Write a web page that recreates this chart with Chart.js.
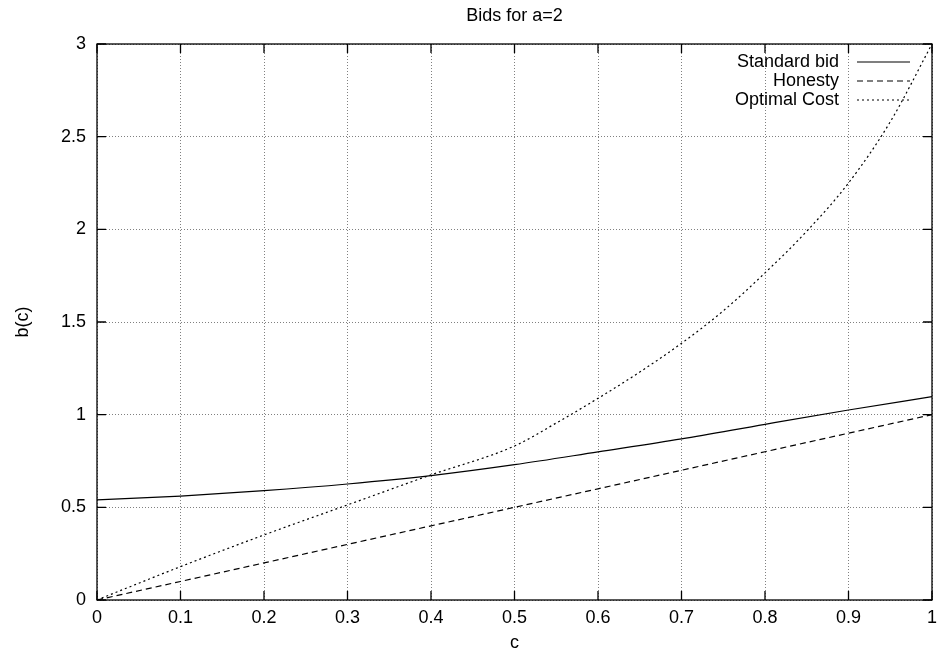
<!DOCTYPE html>
<html>
<head>
<meta charset="utf-8">
<script src="https://cdn.jsdelivr.net/npm/chart.js@4.4.1/dist/chart.umd.min.js"></script>
<style>
  html, body { margin: 0; padding: 0; background: #fff; }
  #wrap { width: 938px; height: 656px; }
</style>
</head>
<body>
<div id="wrap"><canvas id="c" width="938" height="656"></canvas></div>
<script>
// ---- data ----
const chartTitle = "Bids for a=2";
const xAxisTitle = "c";
const yAxisTitle = "b(c)";
const seriesNames = ["Standard bid", "Honesty", "Optimal Cost"];

const stdC = [0, 0.1, 0.2, 0.3, 0.4, 0.5, 0.6, 0.7, 0.8, 0.9, 1.0];
const stdBid = [0.54, 0.561, 0.59, 0.626, 0.671, 0.730, 0.799, 0.869, 0.948, 1.025, 1.097];

const honC = [0, 0.1, 0.2, 0.3, 0.4, 0.5, 0.6, 0.7, 0.8, 0.9, 1.0];
const honBid = [0, 0.1, 0.2, 0.3, 0.4, 0.5, 0.6, 0.7, 0.8, 0.9, 1.0];

const optC = [0, 0.1, 0.2, 0.3, 0.4, 0.5, 0.55, 0.6, 0.65, 0.7, 0.75, 0.8, 0.85, 0.9, 0.95, 1.0];
const optBid = [0, 0.18, 0.351, 0.513, 0.675, 0.831, 0.955, 1.088, 1.23, 1.385, 1.56, 1.765, 1.99, 2.25, 2.58, 3.0];

const xTickStep = 0.1, xMin = 0, xMax = 1;
const yTickStep = 0.5, yMin = 0, yMax = 3;

function pts(xs, ys) { return xs.map((x, i) => ({ x: x, y: ys[i] })); }
function fmt(v) { return String(parseFloat(Number(v).toFixed(3))); }

const FONT = "'Liberation Sans', Arial, Helvetica, sans-serif";
const FS = 18;

// frame, inward ticks and legend (gnuplot style)
const gnuplotDecor = {
  id: 'gnuplotDecor',
  afterDatasetsDraw(chart) {
    const { ctx, chartArea: a, scales } = chart;
    const tl = 9;
    ctx.save();
    ctx.strokeStyle = '#000';
    ctx.lineWidth = 1.3;
    ctx.setLineDash([]);
    ctx.beginPath();
    scales.x.ticks.forEach(t => {
      const px = scales.x.getPixelForValue(t.value);
      ctx.moveTo(px, a.bottom); ctx.lineTo(px, a.bottom - tl);
      ctx.moveTo(px, a.top); ctx.lineTo(px, a.top + tl);
    });
    scales.y.ticks.forEach(t => {
      const py = scales.y.getPixelForValue(t.value);
      ctx.moveTo(a.left, py); ctx.lineTo(a.left + tl, py);
      ctx.moveTo(a.right, py); ctx.lineTo(a.right - tl, py);
    });
    ctx.stroke();
    ctx.strokeRect(a.left, a.top, a.right - a.left, a.bottom - a.top);

    // legend
    ctx.font = FS + 'px ' + FONT;
    ctx.fillStyle = '#000';
    ctx.textAlign = 'right';
    ctx.textBaseline = 'middle';
    const textRight = a.right - 93;
    const lineX0 = a.right - 75, lineX1 = a.right - 22;
    chart.data.datasets.forEach((ds, i) => {
      const y = a.top + 18 + i * 19;
      ctx.fillText(ds.label, textRight, y);
      ctx.beginPath();
      ctx.strokeStyle = ds.borderColor;
      ctx.lineWidth = ds.borderWidth;
      ctx.setLineDash(ds.borderDash || []);
      ctx.moveTo(lineX0, y); ctx.lineTo(lineX1, y);
      ctx.stroke();
    });
    ctx.restore();
  }
};

new Chart(document.getElementById('c'), {
  type: 'scatter',
  data: {
    datasets: [
      { label: seriesNames[0], data: pts(stdC, stdBid), showLine: true, borderColor: '#000', borderWidth: 1.2, pointRadius: 0, cubicInterpolationMode: 'monotone', borderDash: [] },
      { label: seriesNames[1], data: pts(honC, honBid), showLine: true, borderColor: '#000', borderWidth: 1.2, pointRadius: 0, tension: 0, borderDash: [6, 4] },
      { label: seriesNames[2], data: pts(optC, optBid), showLine: true, borderColor: '#000', borderWidth: 1.2, pointRadius: 0, cubicInterpolationMode: 'monotone', borderDash: [2, 3] }
    ]
  },
  options: {
    responsive: false,
    animation: false,
    devicePixelRatio: 1,
    layout: { padding: { left: 0, right: 6, top: 0, bottom: 0 } },
    plugins: {
      legend: { display: false },
      tooltip: { enabled: false },
      title: {
        display: true, text: chartTitle, color: '#000', fullSize: false,
        font: { family: FONT, size: FS, weight: 'normal', lineHeight: 1.2 },
        padding: { top: 5.2, bottom: 17.2 }
      }
    },
    scales: {
      x: {
        type: 'linear', min: xMin, max: xMax,
        ticks: { stepSize: xTickStep, color: '#000', padding: 7, maxRotation: 0, font: { family: FONT, size: FS }, callback: v => fmt(v) },
        grid: { color: '#808080', lineWidth: 1, drawTicks: false },
        border: { display: false, dash: [1, 2] },
        title: { display: true, text: xAxisTitle, color: '#000', font: { family: FONT, size: FS, lineHeight: 1.2 }, padding: { top: 0, bottom: 2.2 } },
        afterFit(scale) { scale.height = 56; scale.paddingLeft = 0; scale.paddingRight = 0; }
      },
      y: {
        type: 'linear', min: yMin, max: yMax,
        ticks: { stepSize: yTickStep, color: '#000', padding: 11, font: { family: FONT, size: FS }, callback: v => fmt(v) },
        grid: { color: '#808080', lineWidth: 1, drawTicks: false },
        border: { display: false, dash: [1, 2] },
        title: { display: true, text: yAxisTitle, color: '#000', font: { family: FONT, size: FS, lineHeight: 1.2 }, padding: { top: 12.2, bottom: 0 } },
        afterFit(scale) { scale.width = 97; scale.paddingTop = 0; scale.paddingBottom = 0; }
      }
    }
  },
  plugins: [gnuplotDecor]
});
</script>
</body>
</html>
